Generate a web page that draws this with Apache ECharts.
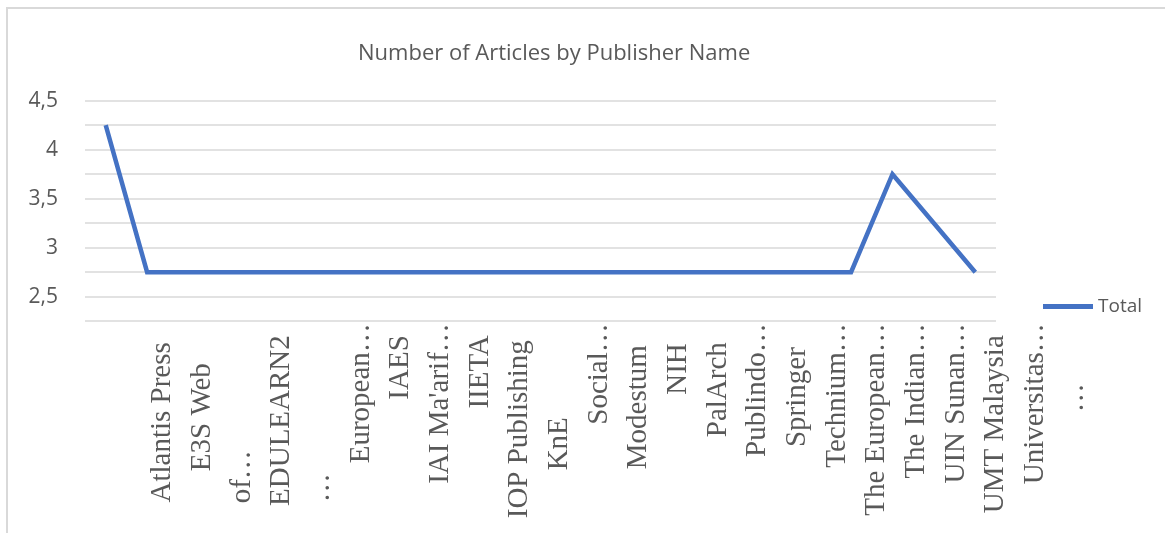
<!DOCTYPE html>
<html>
<head>
<meta charset="utf-8">
<script src="https://cdn.jsdelivr.net/npm/echarts@6/dist/echarts.min.js"></script>
<style>
  html, body { margin: 0; padding: 0; background: #fff; }
  #chart { width: 1165px; height: 533px; }
</style>
</head>
<body>
<div id="chart"></div>
<script>
// line points (one per publisher row)
const points = ['1', '2', '3', '4', '5', '6', '7', '8', '9', '10', '11',
  '12', '13', '14', '15', '16', '17', '18', '19', '20', '21', '22'];
const totals = [4.25, 2.75, 2.75, 2.75, 2.75, 2.75, 2.75, 2.75, 2.75, 2.75, 2.75,
  2.75, 2.75, 2.75, 2.75, 2.75, 2.75, 2.75, 2.75, 3.75, 3.25, 2.75];
// category text columns as printed under the axis
const tickLabels = ['Atlantis Press', 'E3S Web', 'of…', 'EDULEARN2', '…', 'European…',
  'IAES', 'IAI Ma\'arif…', 'IIETA', 'IOP Publishing', 'KnE', 'Social…', 'Modestum',
  'NIH', 'PalArch', 'Publindo…', 'Springer', 'Technium…', 'The European…',
  'The Indian…', 'UIN Sunan…', 'UMT Malaysia', 'Universitas…', '…'];
const yTicks = [2.5, 3, 3.5, 4, 4.5];

// how far each text column is pushed down from the axis (px)
const labelShift = [19, 40, 127, 12, 150, 0, 12, 0, 12, 17, 94, 0, 22, 20, 19, 0, 24,
  0, 0, 0, 0, 12, 0, 60];

const chart = echarts.init(document.getElementById('chart'));
const gray = '#595959';

chart.setOption({
  animation: false,
  title: {
    text: 'Number of Articles by Publisher Name',
    left: 358, top: 43, padding: 0,
    textStyle: { color: gray, fontSize: 22, fontWeight: 'normal', fontFamily: 'Open Sans' }
  },
  legend: {
    data: ['Total'],
    left: 1038, top: 292,
    icon: 'rect', itemWidth: 50, itemHeight: 5,
    textStyle: { color: gray, fontSize: 19, fontFamily: 'Open Sans' }
  },
  graphic: [{
    type: 'rect',
    shape: { x: 7, y: 8, width: 1200, height: 600 },
    style: { fill: 'none', stroke: '#d9d9d9', lineWidth: 2 },
    silent: true
  }],
  grid: [
    { left: 85, right: 169, top: 100.7, height: 220.5 },
    { left: 143, right: 70, top: 100.7, height: 220.5 }
  ],
  xAxis: [
    {
      type: 'category', gridIndex: 0, data: points,
      axisLine: { show: false }, axisTick: { show: false }, axisLabel: { show: false }
    },
    {
      type: 'category', gridIndex: 1, position: 'bottom',
      data: tickLabels.map((t, i) => ({ value: t, textStyle: { padding: [0, labelShift[i], 0, 0] } })),
      axisLine: { show: false }, axisTick: { show: false }, splitLine: { show: false },
      axisLabel: {
        interval: 0, rotate: 90, margin: 2,
        color: gray, fontSize: 29, fontFamily: 'Liberation Serif'
      }
    }
  ],
  yAxis: [
    {
      type: 'value', gridIndex: 0, min: 2.25, max: 4.5, interval: 0.25,
      axisLine: { show: false }, axisTick: { show: false },
      splitLine: { lineStyle: { color: '#d9d9d9', width: 1.5 } },
      axisLabel: {
        margin: 27, color: gray, fontSize: 21, fontFamily: 'Open Sans',
        formatter: v => yTicks.some(t => Math.abs(t - v) < 1e-6) ? String(v).replace('.', ',') : ''
      }
    },
    { type: 'value', gridIndex: 1, show: false }
  ],
  series: [{
    name: 'Total', type: 'line', data: totals,
    xAxisIndex: 0, yAxisIndex: 0,
    symbol: 'none',
    lineStyle: { color: '#4472C4', width: 4.5, join: 'miter' },
    itemStyle: { color: '#4472C4' }
  }]
});
</script>
</body>
</html>
